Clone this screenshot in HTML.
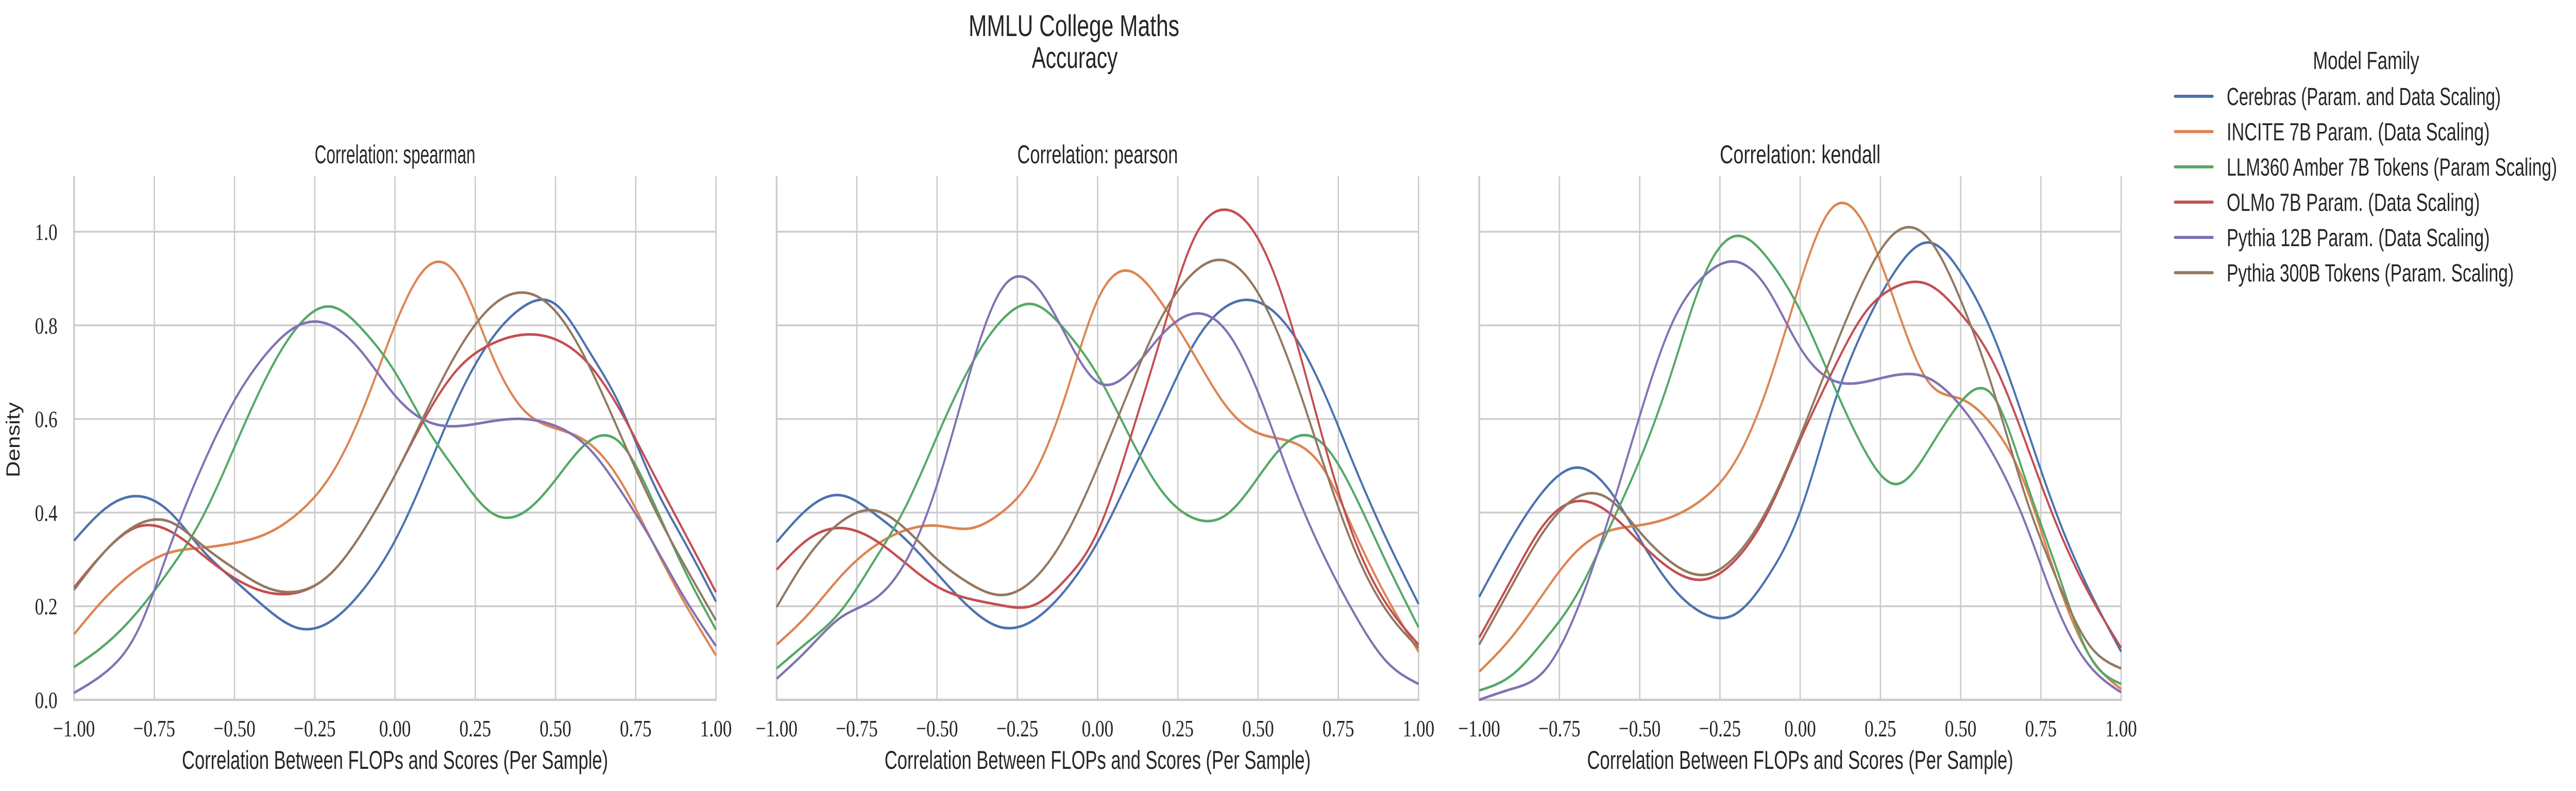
<!DOCTYPE html>
<html><head><meta charset="utf-8"><title>MMLU College Maths Accuracy</title>
<style>
html,body{margin:0;padding:0;background:#fff;overflow:hidden;width:100%;height:100%;}
svg{display:block;width:100vw;height:100vh;}
.sans{font-family:"Liberation Sans",sans-serif;fill:#262626;}
.serif{font-family:"Liberation Serif",serif;fill:#262626;}
</style></head>
<body>
<svg id="fig" viewBox="0 0 6541 1536" preserveAspectRatio="none" xmlns="http://www.w3.org/2000/svg">
  <text class="sans" x="2727" y="70" font-size="58" text-anchor="middle" textLength="535" lengthAdjust="spacingAndGlyphs">MMLU College Maths</text>
  <text class="sans" x="2729" y="132" font-size="58" text-anchor="middle" textLength="218" lengthAdjust="spacingAndGlyphs">Accuracy</text>
  <text class="sans" x="50" y="854" font-size="48" text-anchor="middle" transform="rotate(-90 50 854)" textLength="146" lengthAdjust="spacingAndGlyphs">Density</text>
  <g id="legend">
    <text class="sans" x="6008" y="134" font-size="48" text-anchor="middle" textLength="270" lengthAdjust="spacingAndGlyphs">Model Family</text>
  </g>
</svg>
<script>
// ---- data ----
const xGrid = [-1.0,-0.9,-0.8,-0.7,-0.6,-0.5,-0.4,-0.3,-0.2,-0.1,0.0,0.1,0.2,0.3,0.4,0.5,0.6,0.7,0.8,0.9,1.0];
const seriesNames = ["Cerebras (Param. and Data Scaling)","INCITE 7B Param. (Data Scaling)","LLM360 Amber 7B Tokens (Param Scaling)","OLMo 7B Param. (Data Scaling)","Pythia 12B Param. (Data Scaling)","Pythia 300B Tokens (Param. Scaling)"];
const panelNames = ["spearman","pearson","kendall"];
const xTickValues = [-1.0,-0.75,-0.5,-0.25,0.0,0.25,0.5,0.75,1.0];
const xTickLabels = ["\u22121.00","\u22120.75","\u22120.50","\u22120.25","0.00","0.25","0.50","0.75","1.00"];
const yTickValues = [0.0,0.2,0.4,0.6,0.8,1.0];
const yTickLabels = ["0.0","0.2","0.4","0.6","0.8","1.0"];

const spearmanCerebras = [0.34,0.41,0.435,0.40,0.32,0.255,0.195,0.153,0.168,0.235,0.34,0.49,0.65,0.77,0.84,0.845,0.75,0.63,0.47,0.34,0.21];
const spearmanIncite   = [0.14,0.22,0.28,0.315,0.325,0.335,0.355,0.40,0.48,0.62,0.80,0.925,0.90,0.74,0.62,0.58,0.55,0.47,0.34,0.21,0.095];
const spearmanLlm360   = [0.07,0.12,0.19,0.28,0.39,0.54,0.69,0.80,0.84,0.79,0.70,0.58,0.48,0.40,0.40,0.47,0.55,0.55,0.43,0.28,0.15];
const spearmanOlmo     = [0.24,0.32,0.37,0.36,0.31,0.26,0.23,0.23,0.27,0.36,0.48,0.61,0.71,0.76,0.78,0.77,0.72,0.62,0.49,0.36,0.23];
const spearmanPythia12 = [0.015,0.06,0.15,0.33,0.50,0.64,0.74,0.80,0.80,0.74,0.65,0.595,0.585,0.595,0.60,0.585,0.54,0.45,0.34,0.22,0.115];
const spearmanPythia300= [0.235,0.32,0.375,0.38,0.33,0.28,0.24,0.232,0.27,0.36,0.48,0.62,0.75,0.84,0.87,0.83,0.72,0.57,0.42,0.29,0.17];

const pearsonCerebras = [0.337,0.41,0.437,0.40,0.344,0.27,0.198,0.155,0.17,0.235,0.337,0.475,0.62,0.76,0.84,0.85,0.79,0.665,0.50,0.344,0.205];
const pearsonIncite   = [0.118,0.184,0.264,0.326,0.362,0.372,0.366,0.40,0.48,0.65,0.854,0.916,0.847,0.738,0.628,0.57,0.552,0.497,0.359,0.22,0.103];
const pearsonLlm360   = [0.067,0.125,0.19,0.293,0.41,0.563,0.708,0.81,0.845,0.789,0.694,0.563,0.446,0.388,0.395,0.475,0.555,0.548,0.439,0.293,0.155];
const pearsonOlmo     = [0.278,0.344,0.367,0.344,0.293,0.242,0.216,0.202,0.202,0.257,0.359,0.555,0.78,0.985,1.047,0.985,0.81,0.563,0.344,0.205,0.118];
const pearsonPythia12 = [0.045,0.11,0.176,0.213,0.293,0.46,0.694,0.876,0.89,0.78,0.679,0.70,0.78,0.825,0.789,0.657,0.475,0.315,0.184,0.082,0.034];
const pearsonPythia300= [0.198,0.308,0.38,0.405,0.366,0.30,0.249,0.224,0.257,0.351,0.497,0.665,0.818,0.913,0.938,0.869,0.716,0.512,0.322,0.191,0.111];

const kendallCerebras = [0.22,0.344,0.446,0.496,0.453,0.344,0.242,0.184,0.184,0.264,0.402,0.621,0.796,0.92,0.977,0.913,0.781,0.592,0.395,0.235,0.103];
const kendallIncite   = [0.06,0.133,0.227,0.315,0.36,0.373,0.391,0.431,0.512,0.672,0.891,1.051,1.015,0.84,0.679,0.643,0.585,0.461,0.257,0.096,0.023];
const kendallLlm360   = [0.02,0.052,0.125,0.22,0.359,0.512,0.701,0.905,0.991,0.942,0.832,0.679,0.534,0.461,0.534,0.636,0.65,0.475,0.278,0.096,0.034];
const kendallOlmo     = [0.133,0.257,0.373,0.424,0.402,0.337,0.278,0.257,0.30,0.402,0.555,0.701,0.825,0.883,0.887,0.825,0.723,0.555,0.373,0.227,0.111];
const kendallPythia12 = [0.0,0.023,0.06,0.184,0.38,0.606,0.803,0.905,0.936,0.876,0.752,0.683,0.679,0.694,0.687,0.628,0.526,0.38,0.198,0.074,0.016];
const kendallPythia300= [0.118,0.242,0.359,0.431,0.431,0.359,0.293,0.267,0.308,0.41,0.563,0.738,0.898,1.0,0.985,0.854,0.665,0.439,0.257,0.118,0.067];

const panelSeries = [
  [spearmanCerebras,spearmanIncite,spearmanLlm360,spearmanOlmo,spearmanPythia12,spearmanPythia300],
  [pearsonCerebras,pearsonIncite,pearsonLlm360,pearsonOlmo,pearsonPythia12,pearsonPythia300],
  [kendallCerebras,kendallIncite,kendallLlm360,kendallOlmo,kendallPythia12,kendallPythia300]
];

// ---- layout / style ----
const colors = ["#4c72b0","#dd8452","#55a868","#c44e52","#8172b3","#937860"];
const panelLeft = [188,1972,3756];
const panelW = 1630;
const axTop = 342, axBottom = 1359;
const yMin = 0, yMax = (1359-342)/909;
const NS = "http://www.w3.org/2000/svg";
const svg = document.getElementById("fig");
const legend = document.getElementById("legend");

function mk(tag, attrs, parent){
  const e = document.createElementNS(NS, tag);
  for (const k in attrs) e.setAttribute(k, attrs[k]);
  (parent||svg).appendChild(e);
  return e;
}
function naturalSpline(xs, ys){
  const n = xs.length, h=[], a=[], l=[1], mu=[0], z=[0], c=new Array(n).fill(0), b=[], d=[];
  for(let i=0;i<n-1;i++) h.push(xs[i+1]-xs[i]);
  for(let i=1;i<n-1;i++) a[i]=3/h[i]*(ys[i+1]-ys[i])-3/h[i-1]*(ys[i]-ys[i-1]);
  for(let i=1;i<n-1;i++){ l[i]=2*(xs[i+1]-xs[i-1])-h[i-1]*mu[i-1]; mu[i]=h[i]/l[i]; z[i]=(a[i]-h[i-1]*z[i-1])/l[i]; }
  c[n-1]=0;
  for(let j=n-2;j>=1;j--) c[j]=z[j]-mu[j]*c[j+1];
  c[0]=0;
  for(let j=0;j<n-1;j++){ b[j]=(ys[j+1]-ys[j])/h[j]-h[j]*(c[j+1]+2*c[j])/3; d[j]=(c[j+1]-c[j])/(3*h[j]); }
  return function(x){
    let j=Math.min(n-2, Math.max(0, Math.floor((x-xs[0])/(xs[1]-xs[0]))));
    const dx=x-xs[j];
    return ys[j]+b[j]*dx+c[j]*dx*dx+d[j]*dx*dx*dx;
  };
}

panelNames.forEach((pname, p) => {
  const L = panelLeft[p], R = L + panelW;
  const xs = v => L + (v + 1) / 2 * panelW;
  const ys = v => axBottom - (v - yMin) / (yMax - yMin) * (axBottom - axTop);
  const g = mk("g", {});
  
  
  yTickValues.forEach((v, i) => {
    if (v === 0) return;
    const gl = mk("line", {x1:L, x2:R, y1:ys(v), y2:ys(v), stroke:"#cccccc", "stroke-width":3.5}, g);
    
    
  });
  xTickValues.forEach((v, i) => {
    if (v === -1) return;
    const gl = mk("line", {x1:xs(v), x2:xs(v), y1:axTop, y2:axBottom, stroke:"#cccccc", "stroke-width":3.5}, g);
    
    
  });
  const ls = mk("line", {x1:L, x2:L, y1:axTop, y2:axBottom+2, stroke:"#cccccc", "stroke-width":4.5}, g);
  
  
  const bs = mk("line", {x1:L-2, x2:R+2, y1:axBottom, y2:axBottom, stroke:"#cccccc", "stroke-width":4.5}, g);
  
  
  panelSeries[p].forEach((vals, s) => {
    const f = naturalSpline(xGrid, vals);
    let d = "";
    for (let k = 0; k <= 400; k++) {
      const xv = -1 + 2 * k / 400;
      const yv = Math.max(0, f(xv));
      d += (k ? "L" : "M") + xs(xv).toFixed(1) + "," + ys(yv).toFixed(1);
    }
    const path = mk("path", {d:d, fill:"none", stroke:colors[s], "stroke-width":5, "stroke-linejoin":"round"}, g);
    
    
  });
  xTickValues.forEach((v, i) => {
    const t = mk("text", {x:xs(v), y:1430, "font-size":46, "text-anchor":"middle", class:"serif"}, g);
    t.textContent = xTickLabels[i];
    
    
  });
  if (p === 0) {
    yTickValues.forEach((v, i) => {
      const t = mk("text", {x:146, y:ys(v)+16, "font-size":46, "text-anchor":"end", class:"serif"}, g);
      t.textContent = yTickLabels[i];
      
      
    });
  }
  const tt = mk("text", {x:(L+R)/2, y:317, "font-size":50, "text-anchor":"middle", class:"sans", textLength:408, lengthAdjust:"spacingAndGlyphs"}, g);
  tt.textContent = "Correlation: " + pname;
  
  
  const xt = mk("text", {x:(L+R)/2, y:1493, "font-size":50, "text-anchor":"middle", class:"sans", textLength:1082, lengthAdjust:"spacingAndGlyphs"}, g);
  xt.textContent = "Correlation Between FLOPs and Scores (Per Sample)";
  
  
});

const legendWidths = [696, 668, 839, 643, 668, 729];
seriesNames.forEach((name, s) => {
  const y = 187 + s * 68.5;
  const ln = mk("line", {x1:5523, x2:5618, y1:y, y2:y, stroke:colors[s], "stroke-width":6, "stroke-linecap":"round"}, legend);
  
  
  const t = mk("text", {x:5654, y:y+17, "font-size":48, class:"sans", textLength:legendWidths[s], lengthAdjust:"spacingAndGlyphs"}, legend);
  t.textContent = name;
  
  
});
</script>
</body></html>
